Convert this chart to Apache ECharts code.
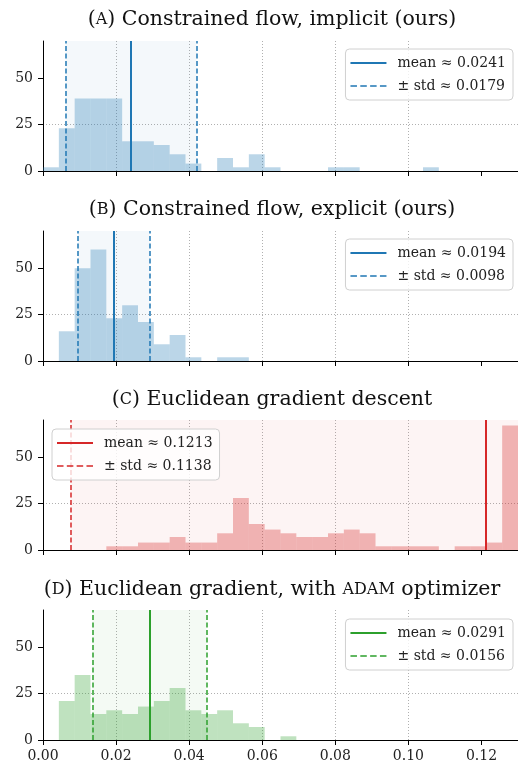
<!DOCTYPE html>
<html>
<head>
<meta charset="utf-8">
<script src="https://cdn.jsdelivr.net/npm/echarts@6.0.0/dist/echarts.min.js"></script>
<style>
html, body { margin: 0; padding: 0; background: #fff; }
#chart { width: 518px; height: 767px; }
</style>
</head>
<body>
<div id="chart"></div>
<script>
// histogram bins shared by all four panels (30 bins on [0, 0.13])
var binEdges = [0, 0.004333, 0.008667, 0.013, 0.017333, 0.021667, 0.026, 0.030333, 0.034667, 0.039,
  0.043333, 0.047667, 0.052, 0.056333, 0.060667, 0.065, 0.069333, 0.073667, 0.078, 0.082333,
  0.086667, 0.091, 0.095333, 0.099667, 0.104, 0.108333, 0.112667, 0.117, 0.121333, 0.125667, 0.13];

var countsA = [2, 23, 39, 39, 39, 16, 16, 14, 9, 4, 0, 7, 2, 9, 2, 0, 0, 0, 2, 2, 0, 0, 0, 0, 2, 0, 0, 0, 0, 0];
var countsB = [0, 16, 50, 60, 23, 30, 21, 9, 14, 2, 0, 2, 2, 0, 0, 0, 0, 0, 0, 0, 0, 0, 0, 0, 0, 0, 0, 0, 0, 0];
var countsC = [0, 0, 0, 0, 2, 2, 4, 4, 7, 4, 4, 9, 28, 14, 11, 9, 7, 7, 9, 11, 9, 2, 2, 2, 2, 0, 2, 2, 4, 67];
var countsD = [0, 21, 35, 14, 16, 14, 18, 21, 28, 16, 14, 16, 9, 7, 0, 2, 0, 0, 0, 0, 0, 0, 0, 0, 0, 0, 0, 0, 0, 0];

var meanVals = [0.0241, 0.0194, 0.1213, 0.0291];
var stdVals = [0.0179, 0.0098, 0.1138, 0.0156];

var xTicks = [0, 0.02, 0.04, 0.06, 0.08, 0.10, 0.12];
var yTicks = [0, 25, 50];

var titleTexts = [
  '({sc|A}) Constrained flow, implicit (ours)',
  '({sc|B}) Constrained flow, explicit (ours)',
  '({sc|C}) Euclidean gradient descent',
  '({sc|D}) Euclidean gradient, with {sc|ADAM} optimizer'
];

var allCounts = [countsA, countsB, countsC, countsD];
var lineColors = ['#1f77b4', '#1f77b4', '#d62728', '#2ca02c'];
var barColors = ['rgba(31,119,180,0.3)', 'rgba(31,119,180,0.3)', 'rgba(214,39,40,0.32)', 'rgba(44,160,44,0.3)'];
var shadeColors = ['rgba(31,119,180,0.05)', 'rgba(31,119,180,0.05)', 'rgba(214,39,40,0.05)', 'rgba(44,160,44,0.05)'];

var gridTops = [41, 231, 420, 610];
var titleTops = [8, 198, 388, 578];
var legendPos = [
  { right: 5, top: 49 },
  { right: 5, top: 239 },
  { left: 52, top: 429 },
  { right: 5, top: 619 }
];

var FONT = 'DejaVu Serif';
var X_MAX = 0.13, Y_MAX = 70;
var dashIcon = 'path://M0,0h6.5v1.5h-6.5z M9.8,0h6.5v1.5h-6.5z M19.6,0h6.5v1.5h-6.5z M29.4,0h6.5v1.5h-6.5z';

var chart = echarts.init(document.getElementById('chart'), null, { renderer: 'canvas' });

var grids = [], xAxes = [], yAxes = [], series = [], legends = [], titles = [];

for (var i = 0; i < 4; i++) {
  grids.push({ left: 43, right: -3, top: gridTops[i], height: 130 });

  xAxes.push({
    type: 'value', gridIndex: i, min: 0, max: X_MAX, interval: 0.02,
    axisLine: { show: true, onZero: false, lineStyle: { color: '#000', width: 1 } },
    axisTick: { show: true, length: 5, lineStyle: { color: '#000' }, customValues: xTicks },
    axisLabel: {
      show: i === 3, customValues: xTicks, fontFamily: FONT, fontSize: 14, color: '#222', margin: 9,
      formatter: function (v) { return v.toFixed(2); }
    },
    splitLine: { show: true, showMinLine: false, showMaxLine: false, lineStyle: { type: [1, 2], color: '#b0b0b0', width: 1 } }
  });

  yAxes.push({
    type: 'value', gridIndex: i, min: 0, max: Y_MAX, interval: 25,
    axisLine: { show: true, lineStyle: { color: '#000', width: 1 } },
    axisTick: { show: true, length: 5, lineStyle: { color: '#000' }, customValues: yTicks },
    axisLabel: { customValues: yTicks, fontFamily: FONT, fontSize: 14, color: '#222', margin: 10 },
    splitLine: { show: true, showMinLine: false, showMaxLine: false, lineStyle: { type: [1, 2], color: '#b0b0b0', width: 1 } }
  });

  var m = meanVals[i], s = stdVals[i];
  var lo = m - s, hi = m + s;
  var meanName = 'mean \u2248 ' + m.toFixed(4);
  var stdName = '\u00b1 std \u2248 ' + s.toFixed(4);

  // shaded +- std band
  series.push({
    type: 'line', name: 'band' + i, xAxisIndex: i, yAxisIndex: i, data: [], silent: true,
    markArea: {
      silent: true, z: 1,
      itemStyle: { color: shadeColors[i] },
      data: [[{ xAxis: Math.max(lo, 0) }, { xAxis: Math.min(hi, X_MAX) }]]
    }
  });

  // histogram
  var histData = [];
  for (var k = 0; k < allCounts[i].length; k++) {
    histData.push([binEdges[k], binEdges[k + 1], allCounts[i][k]]);
  }
  (function (fill) {
    series.push({
      type: 'custom', name: 'hist' + i, xAxisIndex: i, yAxisIndex: i, z: 2, silent: true,
      encode: { x: [0, 1], y: 2 },
      data: histData,
      renderItem: function (params, api) {
        var h = api.value(2);
        if (!h) return null;
        var p0 = api.coord([api.value(0), h]);
        var p1 = api.coord([api.value(1), 0]);
        return {
          type: 'rect',
          shape: { x: p0[0], y: p0[1], width: p1[0] - p0[0], height: p1[1] - p0[1] },
          style: { fill: fill }
        };
      }
    });
  })(barColors[i]);

  // mean line
  series.push({
    type: 'line', name: meanName, xAxisIndex: i, yAxisIndex: i, data: [], symbol: 'none',
    color: lineColors[i], lineStyle: { color: lineColors[i], width: 2 },
    markLine: {
      silent: true, z: 3, precision: 6, symbol: ['none', 'none'], label: { show: false },
      lineStyle: { color: lineColors[i], width: 2, type: 'solid' },
      data: [{ xAxis: m }]
    }
  });

  // +- std lines
  var stdLines = [];
  if (lo >= 0 && lo <= X_MAX) stdLines.push({ xAxis: lo });
  if (hi >= 0 && hi <= X_MAX) stdLines.push({ xAxis: hi });
  series.push({
    type: 'line', name: stdName, xAxisIndex: i, yAxisIndex: i, data: [], symbol: 'none',
    color: lineColors[i], lineStyle: { color: lineColors[i], width: 1.5, type: [5, 2.5] },
    markLine: {
      silent: true, z: 3, precision: 6, symbol: ['none', 'none'], label: { show: false },
      lineStyle: { color: lineColors[i], width: 1.5, type: [5, 2.5] },
      data: stdLines
    }
  });

  var lg = {
    data: [{ name: meanName, icon: 'rect', itemHeight: 2.4 }, { name: stdName, icon: dashIcon, itemHeight: 1.5 }],
    orient: 'vertical', itemWidth: 36, itemHeight: 2, itemGap: 7,
    padding: [6, 7, 6, 5], z: 10, selectedMode: false,
    backgroundColor: 'rgba(255,255,255,0.8)', borderColor: '#d0d0d0', borderWidth: 1, borderRadius: 4,
    textStyle: { fontFamily: FONT, fontSize: 14, color: '#222', padding: [0, 0, 0, 6], lineHeight: 16 }
  };
  for (var key in legendPos[i]) lg[key] = legendPos[i][key];
  legends.push(lg);

  titles.push({
    text: titleTexts[i], left: 272, top: titleTops[i], textAlign: 'center', padding: 0,
    textStyle: {
      fontFamily: FONT, fontSize: 20.5, fontWeight: 'normal', color: '#111', lineHeight: 24,
      rich: { sc: { fontFamily: FONT, fontSize: 16, fontWeight: 'normal', color: '#111', lineHeight: 24 } }
    }
  });
}

chart.setOption({
  animation: false,
  backgroundColor: '#fff',
  title: titles,
  legend: legends,
  grid: grids,
  xAxis: xAxes,
  yAxis: yAxes,
  series: series
});
</script>
</body>
</html>
